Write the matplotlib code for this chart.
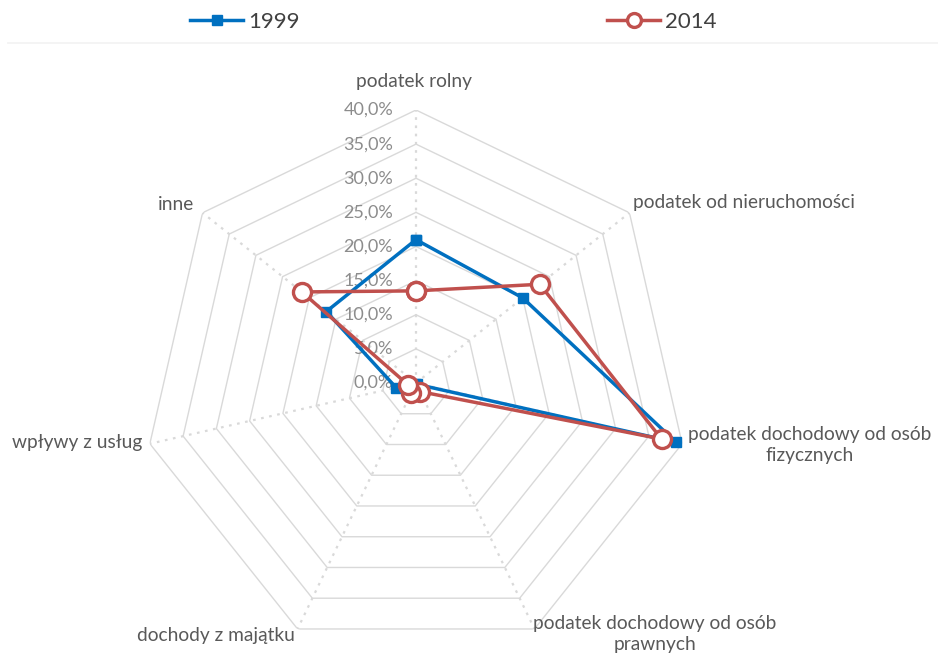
import numpy as np
import matplotlib
matplotlib.use("Agg")
import matplotlib.pyplot as plt
from matplotlib.lines import Line2D

categories = [
    "podatek rolny",
    "podatek od nieruchomości",
    "podatek dochodowy od osób\nfizycznych",
    "podatek dochodowy od osób\nprawnych",
    "dochody z majątku",
    "wpływy z usług",
    "inne",
]
values_1999 = [21.0, 20.0, 39.1, 0.2, 0.2, 3.0, 16.8]
values_2014 = [13.5, 23.2, 36.9, 1.4, 1.7, 1.2, 21.4]
ring_levels = [5, 10, 15, 20, 25, 30, 35, 40]
tick_levels = [0, 5, 10, 15, 20, 25, 30, 35, 40]

plt.rcParams["font.family"] = ["Lato", "DejaVu Sans"]

n = len(categories)
theta = np.linspace(0, 2 * np.pi, n, endpoint=False)
theta_closed = np.append(theta, theta[0])

W, H = 938, 655
cx, cy, rad = 416, 383, 273
fig = plt.figure(figsize=(W / 100, H / 100), dpi=100)
ax = fig.add_axes([(cx - rad) / W, (H - cy - rad) / H, 2 * rad / W, 2 * rad / H],
                  projection="polar")
ax.set_theta_offset(np.pi / 2)
ax.set_theta_direction(-1)
ax.set_ylim(0, 40)
ax.grid(False)
ax.spines["polar"].set_visible(False)
ax.set_xticks([])
ax.set_yticks([])
ax.patch.set_alpha(0)

grid_col = "#d9d9d9"
for lev in ring_levels:
    ax.plot(theta_closed, [lev] * (n + 1), color=grid_col, lw=1.0, zorder=1)
for t in theta:
    ax.plot([t, t], [0, 40], color=grid_col, lw=1.6, ls=(0, (1.2, 2.5)), zorder=1)

for lev in tick_levels:
    ax.annotate(f"{lev:.1f}%".replace(".", ","), (0, lev), xytext=(-23, 0),
                textcoords="offset pixels", ha="right", va="center",
                color="#8c8c8c", fontsize=13, zorder=2)

blue, red = "#0070C0", "#C0504D"
ax.plot(theta_closed, values_1999 + values_1999[:1], color=blue, lw=2.5,
        marker="s", ms=7.5, mfc=blue, mec=blue, zorder=3, clip_on=False)
ax.plot(theta_closed, values_2014 + values_2014[:1], color=red, lw=2.5,
        marker="o", ms=13, mfc="white", mec=red, mew=2.4, zorder=4, clip_on=False)

label_pos = [
    ((-2, 28), "center", "center"),
    ((4, 10), "left", "center"),
    ((6, -1), "left", "center"),
    ((-1, -5), "left", "center"),
    ((-3, -7), "right", "center"),
    ((-7, 1), "right", "center"),
    ((-8, 8), "right", "center"),
]
for t, lab, (off, ha, va) in zip(theta, categories, label_pos):
    ax.annotate(lab, (t, 40), xytext=off, textcoords="offset pixels",
                ha=ha, va=va, multialignment="center", color="#595959",
                fontsize=13.8, linespacing=1.3, annotation_clip=False)

# legend entries placed separately across the top
h1999 = Line2D([], [], color=blue, lw=2.5, marker="s", ms=7.5, mfc=blue, mec=blue)
h2014 = Line2D([], [], color=red, lw=2.5, marker="o", ms=10, mfc="white", mec=red, mew=2.4)
for h, lab, x0 in [(h1999, "1999", 190), (h2014, "2014", 607)]:
    fig.legend(handles=[h], labels=[lab], loc="center left",
               bbox_to_anchor=(x0 / W, 1 - 22 / H), frameon=False,
               borderpad=0, borderaxespad=0, handlelength=2.4, handletextpad=0.2,
               prop={"size": 16}, labelcolor="#404040")

fig.add_artist(Line2D([8 / W, 1], [1 - 43 / H] * 2, color="#f2f2f2", lw=1.2))

fig.savefig("out.png", dpi=100, facecolor="white")
